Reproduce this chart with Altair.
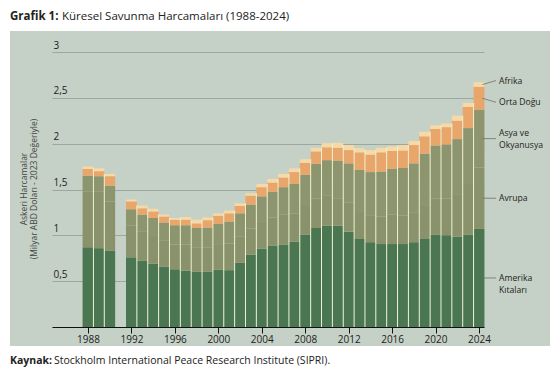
import altair as alt
import pandas as pd

# ---------------- data (milyar ABD doları, 2023 sabit) ----------------
years = [1988, 1989, 1990,
         1992, 1993, 1994, 1995, 1996, 1997, 1998, 1999, 2000, 2001, 2002,
         2003, 2004, 2005, 2006, 2007, 2008, 2009, 2010, 2011, 2012, 2013,
         2014, 2015, 2016, 2017, 2018, 2019, 2020, 2021, 2022, 2023, 2024]

americas = [0.87, 0.86, 0.83,
            0.76, 0.725, 0.69, 0.66, 0.63, 0.615, 0.605, 0.605, 0.625, 0.62, 0.70,
            0.79, 0.855, 0.885, 0.90, 0.93, 1.01, 1.08, 1.105, 1.105, 1.04, 0.96,
            0.925, 0.905, 0.905, 0.905, 0.925, 0.96, 1.01, 1.00, 0.985, 1.01, 1.07]

europe = [0.61, 0.615, 0.54,
          0.345, 0.32, 0.31, 0.28, 0.27, 0.285, 0.265, 0.26, 0.27, 0.29, 0.29,
          0.285, 0.30, 0.31, 0.325, 0.31, 0.31, 0.32, 0.325, 0.30, 0.315, 0.305,
          0.295, 0.30, 0.32, 0.31, 0.32, 0.37, 0.39, 0.40, 0.465, 0.55, 0.67]

asia_oceania = [0.17, 0.17, 0.17,
                0.18, 0.18, 0.19, 0.20, 0.21, 0.21, 0.21, 0.22, 0.23, 0.24, 0.25,
                0.26, 0.27, 0.28, 0.30, 0.32, 0.34, 0.38, 0.39, 0.41, 0.43, 0.45,
                0.47, 0.49, 0.50, 0.52, 0.54, 0.56, 0.58, 0.59, 0.60, 0.61, 0.63]

middle_east = [0.075, 0.055, 0.105,
               0.085, 0.07, 0.07, 0.065, 0.06, 0.06, 0.05, 0.08, 0.088, 0.09, 0.08,
               0.098, 0.10, 0.10, 0.105, 0.13, 0.13, 0.135, 0.14, 0.14, 0.145, 0.19,
               0.19, 0.21, 0.195, 0.19, 0.20, 0.19, 0.18, 0.19, 0.20, 0.23, 0.25]

africa = [0.025, 0.03, 0.025,
          0.02, 0.03, 0.03, 0.022, 0.02, 0.03, 0.04, 0.03, 0.027, 0.03, 0.03,
          0.026, 0.035, 0.04, 0.04, 0.04, 0.04, 0.04, 0.045, 0.055, 0.055, 0.045,
          0.05, 0.05, 0.05, 0.06, 0.045, 0.05, 0.04, 0.04, 0.055, 0.045, 0.05]

regions = ["Amerika Kıtaları", "Avrupa", "Asya ve Okyanusya", "Orta Doğu", "Afrika"]
region_labels = [["Amerika", "Kıtaları"], ["Avrupa"], ["Asya ve", "Okyanusya"],
                 ["Orta Doğu"], ["Afrika"]]
series = [americas, europe, asia_oceania, middle_east, africa]

x_ticks = [1988, 1992, 1996, 2000, 2004, 2008, 2012, 2016, 2020, 2024]
y_ticks = [0, 0.5, 1, 1.5, 2, 2.5, 3]

# ---------------- styling ----------------
colors = ["#4a7751", "#8a926b", "#8d956e", "#e9a66b", "#f7d9a6"]
label_dy = [6, 0, 0, 4, -4]          # text block nudge (px)
leader_dy = [0, 0, 0, 4, -4]         # leader end nudge (px)
LINE_H = 11.8
LABEL_SIZE = 8.6
PANEL = "#c5d1c6"
FONT = "Open Sans"

W, H = 432, 275
xdom = [1984.685, 2024.46]
ydom = [0, 3]

# ---------------- tables ----------------
rows = []
for i, yr in enumerate(years):
    base = 0.0
    for r, s in zip(regions, series):
        rows.append({"year": yr, "start": yr - 0.5, "end": yr + 0.5,
                     "region": r, "y0": base, "y1": base + s[i]})
        base += s[i]
bars = pd.DataFrame(rows)

totals = {yr: sum(s[i] for s in series) for i, yr in enumerate(years)}
sep = pd.DataFrame([{"x": yr - 0.5, "top": min(totals[yr], totals[yr - 1])}
                    for yr in years if (yr - 1) in totals])

last = bars[bars["year"] == years[-1]].copy()
last["mid"] = (last["y0"] + last["y1"]) / 2

xs = alt.Scale(domain=xdom, nice=False, zero=False)
ys = alt.Scale(domain=ydom, nice=False, zero=True)

one = pd.DataFrame({"t": [""]})


def rect(x, x2, y, y2, color):
    return alt.Chart(one).mark_rect(color=color).encode(
        x=alt.value(x), x2=alt.value(x2), y=alt.value(y), y2=alt.value(y2))


def txt(s, x, y, size, weight="normal", color="#222", align="left",
        baseline="alphabetic", angle=0):
    return alt.Chart(pd.DataFrame({"t": [s]})).mark_text(
        font=FONT, fontSize=size, fontWeight=weight, color=color,
        align=align, baseline=baseline, angle=angle
    ).encode(x=alt.value(x), y=alt.value(y), text="t:N")


bar_layer = alt.Chart(bars).mark_rect().encode(
    x=alt.X("start:Q", scale=xs, axis=alt.Axis(
        values=x_ticks, format="d", title=None, grid=False,
        labelFont=FONT, labelFontSize=10, labelColor="#222",
        tickColor="#111", tickSize=6, tickWidth=1,
        domainColor="#111", domainWidth=1, labelPadding=1, labelFlush=False)),
    x2="end:Q",
    y=alt.Y("y0:Q", scale=ys, axis=alt.Axis(
        values=y_ticks, title=None, grid=True, gridColor="#929d95", gridWidth=0.8,
        domain=False, ticks=False, tickSize=0, labelAlign="left", labelPadding=-1,
        labelBaseline="alphabetic", labelOffset=-4, labelFont=FONT,
        labelFontSize=10, labelColor="#222", labelOverlap=False,
        labelExpr="datum.value == 0 ? '' : replace(format(datum.value, '~g'), '.', ',')")),
    y2="y1:Q",
    color=alt.Color("region:N", scale=alt.Scale(domain=regions, range=colors), legend=None),
)

sep_layer = alt.Chart(sep).mark_rule(color="#eef0d2", strokeWidth=1).encode(
    x=alt.X("x:Q", scale=xs), y=alt.Y("top:Q", scale=ys), y2=alt.datum(0))

layers = [
    rect(-52, 508, -52, -21, "white"),
    rect(-52, 508, 294, 325, "white"),
    rect(-52, -42, -52, 325, "white"),
    rect(498, 508, -52, 325, "white"),
    bar_layer,
    sep_layer,
]

for r, lines, ldy, tdy in zip(regions, region_labels, leader_dy, label_dy):
    d = last[last["region"] == r]
    layers.append(
        alt.Chart(d).mark_rule(color="#6f6f6f", strokeWidth=0.8, xOffset=-2, y2Offset=ldy).encode(
            x=alt.X("end:Q", scale=xs), y=alt.Y("mid:Q", scale=ys),
            x2=alt.value(444), y2="mid:Q"))
    n = len(lines)
    for k, line in enumerate(lines):
        off = tdy + (k - (n - 1) / 2) * LINE_H
        dd = d.assign(lab=line)
        layers.append(
            alt.Chart(dd).mark_text(font=FONT, fontSize=LABEL_SIZE, color="#222", align="left",
                                    baseline="middle", dy=off).encode(
                x=alt.value(447), y=alt.Y("mid:Q", scale=ys), text="lab:N"))

layers += [
    txt("Grafik 1:", -42, -32.5, 11.5, weight="bold", color="#222"),
    txt("Küresel Savunma Harcamaları (1988-2024)", 10, -32.5, 11.5, color="#222"),
    txt("Kaynak:", -42, 312, 10.5, weight="bold", color="#222"),
    txt("Stockholm International Peace Research Institute (SIPRI).", 2, 312, 10.5, color="#222"),
    txt("Askeri Harcamalar", -28, 137, 8.5, color="#444", align="center",
        baseline="middle", angle=270),
    txt("(Milyar ABD Doları - 2023 Değeriyle)", -18, 137, 8.5, color="#444",
        align="center", baseline="middle", angle=270),
]

chart = alt.layer(*layers).properties(
    width=W, height=H,
    autosize=alt.AutoSizeParams(type="none"),
    padding={"left": 52, "top": 52, "right": 76, "bottom": 50},
).configure(background=PANEL).configure_view(stroke=None)

chart.save("out.html", embed_options={"renderer": "svg", "actions": False})
